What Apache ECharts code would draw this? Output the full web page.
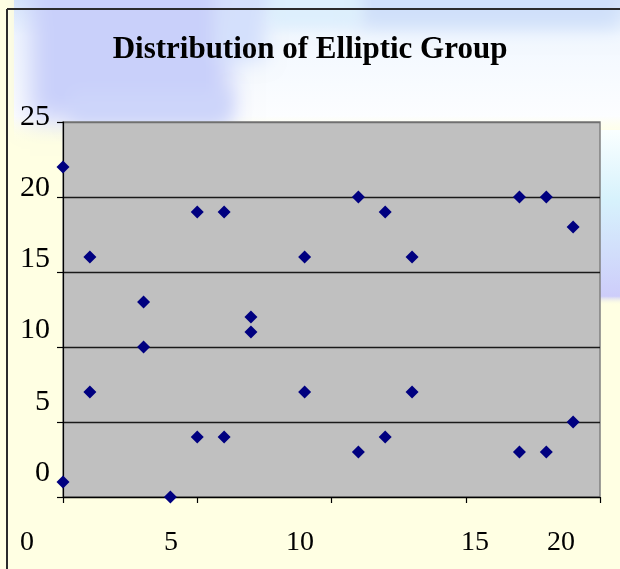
<!DOCTYPE html>
<html>
<head>
<meta charset="utf-8">
<script src="https://cdn.jsdelivr.net/npm/echarts@6/dist/echarts.min.js"></script>
<style>
  html, body { margin: 0; padding: 0; background: #FFFFE3; }
  #chart { width: 620px; height: 569px; }
</style>
</head>
<body>
<div id="chart"></div>
<script>
// Points of the elliptic group over the prime field
const pointX = [0, 0, 1, 1, 3, 3, 4, 5, 5, 6, 6, 7, 7, 9, 9, 11, 11, 12, 12, 13, 13, 17, 17, 18, 18, 19, 19];
const pointY = [1, 22, 7, 16, 10, 13, 0, 4, 19, 4, 19, 11, 12, 7, 16, 3, 20, 4, 19, 7, 16, 3, 20, 3, 20, 5, 18];

// Tick labels
const xTickLabels = ['0', '5', '10', '15', '20'];
const yTickValues = [0, 5, 10, 15, 20, 25];

const titleText = 'Distribution of Elliptic Group';

const serif = "'Liberation Serif', 'Times New Roman', 'DejaVu Serif', serif";

// horizontal placement of the free-standing x labels
const xLabelPos = [27, 171, 300, 475, 561];

const chart = echarts.init(document.getElementById('chart'), null, { renderer: 'canvas' });

const L = echarts.graphic.LinearGradient;

// soft colour patch for the slide backdrop: the shape sits off-canvas and only
// its blurred shadow is cast into view
const SHIFT = 3000;
function patch(x, y, w, h, color, blur) {
  return { type: 'rect', z: -35, silent: true,
    shape: { x: x - SHIFT, y: y, width: w, height: h },
    style: { fill: color, shadowBlur: blur, shadowColor: color, shadowOffsetX: SHIFT } };
}

const backdrop = [
  // pale haze across the top band
  { type: 'rect', z: -40, silent: true,
    shape: { x: 14, y: 0, width: 606, height: 145 },
    style: { fill: new L(0, 0, 0, 1, [
      { offset: 0, color: 'rgba(214,230,252,1)' },
      { offset: 0.25, color: 'rgba(242,248,255,1)' },
      { offset: 0.8, color: 'rgba(252,253,255,1)' },
      { offset: 1, color: 'rgba(255,255,227,0)' }]) } },
  // lavender cloud on the left
  patch(30, -30, 200, 150, '#C9D0FA', 24),
  patch(70, 90, 160, 34, '#CDD5FA', 18),
  patch(215, -20, 50, 80, '#D4E0FC', 20),
  // light blue along the top right
  patch(360, -30, 260, 58, '#D0E0FA', 18),
  patch(270, -20, 90, 45, '#DDF0FD', 14),
  // cyan tint on the right edge
  { type: 'rect', z: -30, silent: true,
    shape: { x: 598, y: 130, width: 30, height: 175 },
    style: { fill: new L(0, 0, 0, 1, [
      { offset: 0, color: 'rgba(250,255,255,1)' },
      { offset: 0.4, color: 'rgba(215,242,252,1)' },
      { offset: 0.95, color: 'rgba(205,205,250,1)' },
      { offset: 1, color: 'rgba(255,255,227,0)' }]) } },
  // frame lines
  { type: 'line', z: 5, silent: true,
    shape: { x1: 7, y1: 9, x2: 7, y2: 569 },
    style: { stroke: '#2b2b2b', lineWidth: 2 } },
  { type: 'line', z: 5, silent: true,
    shape: { x1: 7, y1: 9, x2: 620, y2: 9 },
    style: { stroke: '#2b2b2b', lineWidth: 2 } }
];

const xLabels = xTickLabels.map((t, i) => ({
  type: 'text', z: 10, silent: true,
  x: xLabelPos[i], y: 543,
  style: { text: t, fill: '#000', font: '28px ' + serif, align: 'center', verticalAlign: 'middle' }
}));

chart.setOption({
  backgroundColor: '#FFFFE3',
  animation: false,
  title: {
    text: titleText,
    left: 'center',
    top: 29,
    textStyle: { fontFamily: serif, fontWeight: 'bold', fontSize: 31, color: '#000' }
  },
  graphic: backdrop.concat(xLabels),
  grid: [
    { left: 63, right: 20, top: 122, bottom: 72, show: true,
      backgroundColor: '#C0C0C0', borderColor: '#808080', borderWidth: 1.5 },
    // grid carrying the stand-alone value labels on the left
    { left: 52, width: 1, top: 117, bottom: 96, show: false }
  ],
  xAxis: [
    { type: 'value', gridIndex: 0, min: 0, max: 20, interval: 5,
      axisLine: { show: true, onZero: false, lineStyle: { color: '#000', width: 1.2 } },
      axisTick: { show: true, inside: false, length: 6, lineStyle: { color: '#000', width: 1.2 } },
      axisLabel: { show: false },
      splitLine: { show: false } },
    { type: 'value', gridIndex: 1, min: 0, max: 1, show: false }
  ],
  yAxis: [
    { type: 'value', gridIndex: 0, min: 0, max: 25, interval: 5,
      axisLine: { show: true, onZero: false, lineStyle: { color: '#000', width: 1.2 } },
      axisTick: { show: true, inside: false, length: 6, lineStyle: { color: '#000', width: 1.2 } },
      axisLabel: { show: false },
      splitLine: { show: true, lineStyle: {
        color: ['#000', '#1a1a1a', '#1a1a1a', '#1a1a1a', '#1a1a1a', '#707070'], width: 1.3 } } },
    { type: 'value', gridIndex: 1, min: yTickValues[0], max: yTickValues[yTickValues.length - 1], interval: 5,
      axisLine: { show: false }, axisTick: { show: false }, splitLine: { show: false },
      axisLabel: { show: true, margin: 2, color: '#000', fontFamily: serif, fontSize: 30, align: 'right' } }
  ],
  series: [{
    type: 'scatter',
    xAxisIndex: 0, yAxisIndex: 0,
    symbol: 'diamond',
    symbolSize: 13,
    clip: false,
    itemStyle: { color: '#000080', opacity: 1 },
    data: pointX.map((x, i) => [x, pointY[i]])
  }]
});
</script>
</body>
</html>
